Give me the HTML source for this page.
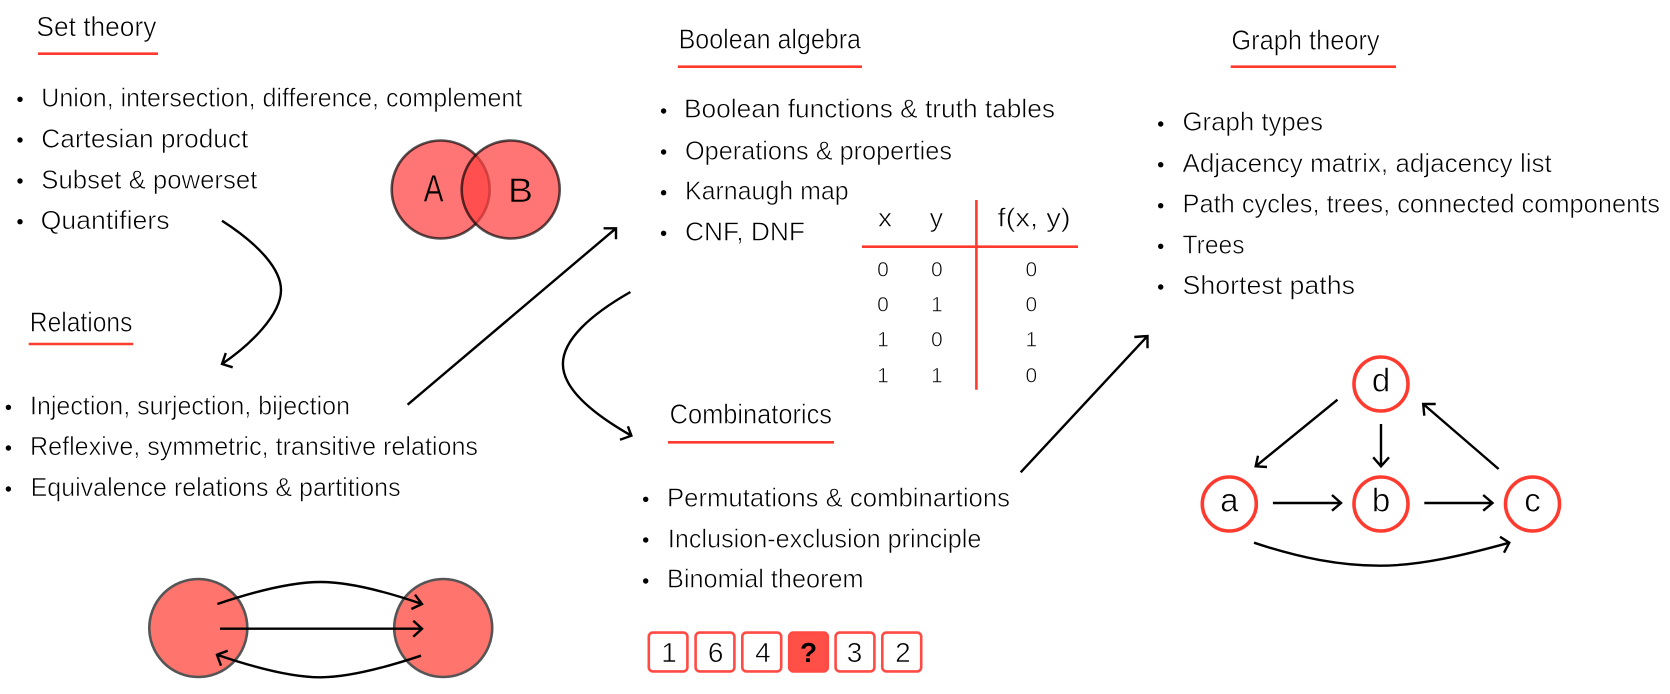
<!DOCTYPE html>
<html><head><meta charset="utf-8"><style>
html,body{margin:0;padding:0;background:#fff;width:1670px;height:694px;overflow:hidden}
svg{display:block}
text{font-family:"Liberation Sans",sans-serif;fill:#000;stroke:#fff;stroke-width:.6px;paint-order:fill stroke}
.l{font-size:26px}.h{font-size:28px}
.a{fill:none;stroke:#000;stroke-width:2.4;stroke-linecap:butt;stroke-linejoin:miter}
.u{stroke:#ff3b30;stroke-width:2.6}
.c{font-size:21px;text-anchor:middle}
.n{font-size:33px;text-anchor:middle}
.g{fill:#fff;stroke:#ff3b30;stroke-width:3.6}
.b{fill:#fff;stroke:#ff4b44;stroke-width:2.6}
.d{font-size:28px;text-anchor:middle}
</style></head><body>
<svg width="1670" height="694" viewBox="0 0 1670 694" xmlns="http://www.w3.org/2000/svg">
<g><text class="h" x="36.4" y="36" textLength="120" lengthAdjust="spacingAndGlyphs">Set theory</text>
<line class="u" x1="38" y1="53.7" x2="158" y2="53.7"/>
<circle cx="20" cy="99.3" r="2.7"/><circle cx="20" cy="140" r="2.7"/><circle cx="20" cy="181" r="2.7"/><circle cx="20" cy="221.7" r="2.7"/>
<text class="l" x="41.3" y="106.7" textLength="481" lengthAdjust="spacingAndGlyphs">Union, intersection, difference, complement</text>
<text class="l" x="41.3" y="147.7" textLength="207" lengthAdjust="spacingAndGlyphs">Cartesian product</text>
<text class="l" x="41.3" y="188.3" textLength="216" lengthAdjust="spacingAndGlyphs">Subset &amp; powerset</text>
<text class="l" x="40.6" y="229" textLength="129" lengthAdjust="spacingAndGlyphs">Quantifiers</text></g>

<g fill="#ff4242" fill-opacity=".734" stroke="#000" stroke-opacity=".66" stroke-width="2.6">
<circle cx="440.7" cy="189.5" r="49"/><circle cx="510.7" cy="189.5" r="49"/></g>
<text x="433.6" y="201.7" style="font-size:38px;text-anchor:middle;stroke:#ff746c" textLength="20" lengthAdjust="spacingAndGlyphs">A</text>
<text x="520.5" y="202" style="font-size:34px;text-anchor:middle;stroke:#ff746c" textLength="25" lengthAdjust="spacingAndGlyphs">B</text>

<path class="a" d="M222 220.7C260 245 281 270 281 290C281 315 250 345 222 364M232.7 367.3L222 364L225.8 353"/>

<text class="h" x="29.8" y="331.7" textLength="102.6" lengthAdjust="spacingAndGlyphs">Relations</text>
<line class="u" x1="28.7" y1="344" x2="133.2" y2="344"/>
<circle cx="8.4" cy="407.3" r="2.7"/><circle cx="8.4" cy="448" r="2.7"/><circle cx="8.4" cy="489" r="2.7"/>
<text class="l" x="30" y="414.7" textLength="320" lengthAdjust="spacingAndGlyphs">Injection, surjection, bijection</text>
<text class="l" x="30" y="455" textLength="448" lengthAdjust="spacingAndGlyphs">Reflexive, symmetric, transitive relations</text>
<text class="l" x="30.6" y="496" textLength="370" lengthAdjust="spacingAndGlyphs">Equivalence relations &amp; partitions</text>

<g fill="#ff746c" stroke="#555" stroke-width="2.6"><circle cx="198.3" cy="628" r="49"/><circle cx="443.2" cy="628" r="49"/></g>
<path class="a" d="M217.4 604C250 593 290 582 320.7 582C350 582 390 593 422 604M415 594.7L422 604L411.4 609"/>
<path class="a" d="M220 628.7H422M413.3 620.7L422 628.7L413.3 636.7"/>
<path class="a" d="M421 655.7C390 666 350 677.3 320.7 677.3C290 677.3 250 666 217 654.7M227.7 650.7L217 654.7L221 665.7"/>

<path class="a" d="M407.6 404.7L616 228.3M603.6 228.3H616V239.3"/>
<path class="a" d="M630.4 292C590 315 562.9 340 562.9 364C562.9 390 595 415 631.4 435.7M627.9 426.3L631.4 435.7L620 439.7"/>

<text class="h" x="678.6" y="48.3" textLength="182.4" lengthAdjust="spacingAndGlyphs">Boolean algebra</text>
<line class="u" x1="677.9" y1="66.7" x2="862" y2="66.7"/>
<circle cx="663.6" cy="111" r="2.7"/><circle cx="663.6" cy="152" r="2.7"/><circle cx="663.6" cy="192.7" r="2.7"/><circle cx="663.6" cy="233.3" r="2.7"/>
<text class="l" x="684" y="117.3" textLength="371" lengthAdjust="spacingAndGlyphs">Boolean functions &amp; truth tables</text>
<text class="l" x="685" y="159.3" textLength="267" lengthAdjust="spacingAndGlyphs">Operations &amp; properties</text>
<text class="l" x="685" y="199.3" textLength="163.6" lengthAdjust="spacingAndGlyphs">Karnaugh map</text>
<text class="l" x="685" y="240.7" textLength="120" lengthAdjust="spacingAndGlyphs">CNF, DNF</text>

<line class="u" x1="976.4" y1="200" x2="976.4" y2="389.7"/>
<line class="u" x1="862" y1="246.7" x2="1078" y2="246.7"/>
<text class="l" x="878" y="226.7" textLength="14" lengthAdjust="spacingAndGlyphs">x</text>
<text class="l" x="929.6" y="226.7" textLength="13.4" lengthAdjust="spacingAndGlyphs">y</text>
<text class="l" x="997.5" y="226.7" textLength="73.2" lengthAdjust="spacingAndGlyphs">f(x, y)</text>
<text class="c" x="883" y="276.7">0</text><text class="c" x="936.8" y="276.7">0</text><text class="c" x="1031.4" y="276.7">0</text>
<text class="c" x="883" y="311.7">0</text><text class="c" x="936.8" y="311.7">1</text><text class="c" x="1031.4" y="311.7">0</text>
<text class="c" x="883" y="346.7">1</text><text class="c" x="936.8" y="346.7">0</text><text class="c" x="1031.4" y="346.7">1</text>
<text class="c" x="883" y="382.3">1</text><text class="c" x="936.8" y="382.3">1</text><text class="c" x="1031.4" y="382.3">0</text>

<text class="h" x="669.6" y="423.3" textLength="162.4" lengthAdjust="spacingAndGlyphs">Combinatorics</text>
<line class="u" x1="668" y1="442.3" x2="834" y2="442.3"/>
<circle cx="645.7" cy="499.3" r="2.7"/><circle cx="645.7" cy="540" r="2.7"/><circle cx="645.7" cy="581" r="2.7"/>
<text class="l" x="667" y="506.3" textLength="343" lengthAdjust="spacingAndGlyphs">Permutations &amp; combinartions</text>
<text class="l" x="667.9" y="547.3" textLength="313.5" lengthAdjust="spacingAndGlyphs">Inclusion-exclusion principle</text>
<text class="l" x="667" y="587.7" textLength="196.6" lengthAdjust="spacingAndGlyphs">Binomial theorem</text>

<rect class="b" x="648.8" y="632.6" width="38.6" height="38.8" rx="4"/>
<rect class="b" x="695.6" y="632.6" width="38.8" height="38.8" rx="4"/>
<rect class="b" x="742.3" y="632.6" width="38.9" height="38.8" rx="4"/>
<rect class="b" x="789.2" y="632.6" width="38.6" height="38.8" rx="4" style="fill:#ff4f46"/>
<rect class="b" x="835.6" y="632.6" width="38.8" height="38.8" rx="4"/>
<rect class="b" x="882.3" y="632.6" width="38.9" height="38.8" rx="4"/>
<text class="d" x="669" y="662">1</text><text class="d" x="715.7" y="662">6</text><text class="d" x="762.9" y="662">4</text>
<text class="d" x="808.6" y="662" style="font-weight:bold;stroke:none">?</text>
<text class="d" x="854.6" y="662">3</text><text class="d" x="902.9" y="662">2</text>

<path class="a" d="M1020.7 472.3L1147.5 336M1134.3 337L1147.5 336V348.3"/>

<text class="h" x="1231.4" y="49.3" textLength="148.2" lengthAdjust="spacingAndGlyphs">Graph theory</text>
<line class="u" x1="1230.7" y1="66.7" x2="1396" y2="66.7"/>
<circle cx="1160.7" cy="124" r="2.7"/><circle cx="1160.7" cy="164.7" r="2.7"/><circle cx="1160.7" cy="205.7" r="2.7"/><circle cx="1160.7" cy="246.3" r="2.7"/><circle cx="1160.7" cy="287" r="2.7"/>
<text class="l" x="1182.5" y="130.7" textLength="140.5" lengthAdjust="spacingAndGlyphs">Graph types</text>
<text class="l" x="1182.5" y="172" textLength="369.3" lengthAdjust="spacingAndGlyphs">Adjacency matrix, adjacency list</text>
<text class="l" x="1182.5" y="212.3" textLength="477.5" lengthAdjust="spacingAndGlyphs">Path cycles, trees, connected components</text>
<text class="l" x="1182.5" y="253.3" textLength="62" lengthAdjust="spacingAndGlyphs">Trees</text>
<text class="l" x="1182.5" y="294" textLength="172.5" lengthAdjust="spacingAndGlyphs">Shortest paths</text>

<circle class="g" cx="1381" cy="384" r="27"/><circle class="g" cx="1229.3" cy="504" r="27"/><circle class="g" cx="1381" cy="504" r="27"/><circle class="g" cx="1532.5" cy="504" r="27"/>
<text class="n" x="1381" y="391.3">d</text><text class="n" x="1229.3" y="511.5">a</text><text class="n" x="1381" y="511.5">b</text><text class="n" x="1532.5" y="511.5">c</text>

<path class="a" d="M1337.5 399.7L1255.7 466.3M1267 467L1255.7 466.3L1258 455.7"/>
<path class="a" d="M1381 424V466.3M1373.2 457.3L1381 466.3L1389 457.3"/>
<path class="a" d="M1498.6 469L1423.2 404M1435.7 404H1423.2L1424.3 415.7"/>
<path class="a" d="M1272.9 503H1341M1332 495L1341 503L1332 510.7"/>
<path class="a" d="M1424.3 503H1492.5M1483.2 495L1492.5 503L1483.2 510.7"/>
<path class="a" d="M1254 542.7C1300 558 1340 565.7 1380 565.7C1420 565.7 1465 555 1509.3 542.7M1500 536.7L1509.3 542.7L1504 552.7"/>
</svg>
</body></html>
